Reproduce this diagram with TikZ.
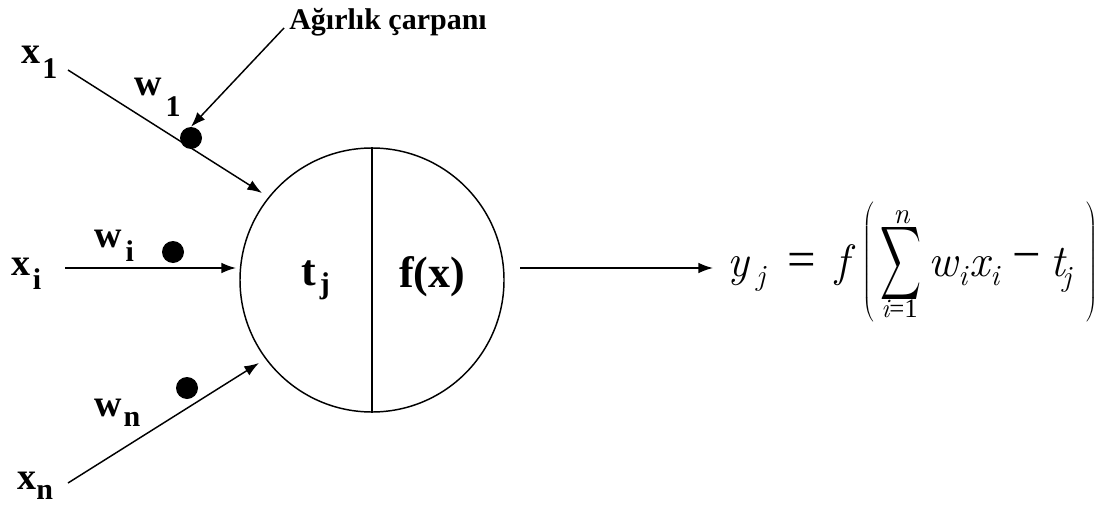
\documentclass[tikz,border=0pt]{standalone}
\usepackage{graphicx}
\usepackage{fontspec}
\setmainfont{Liberation Serif}
\newfontfamily\eqf{Liberation Serif}
\newcommand\lmit{\fontfamily{lmr}\fontshape{it}\selectfont}
\usetikzlibrary{arrows.meta}
% letter, subscript, lowering (pt), kern (pt)
\newcommand\sublab[4]{#1\kern#4pt\raisebox{-#3pt}{\fontsize{22.5}{24}\selectfont #2}}
\newcommand\bigparen[1]{$\left#1\vcenter{\hbox{\vrule height 45pt depth 45pt width 0pt}}\right.$}
\tikzset{
  lab/.style={inner sep=0pt, font=\fontsize{28.5}{30}\selectfont\bfseries},
  big/.style={inner sep=0pt, font=\fontsize{33}{36}\selectfont\bfseries},
  wire/.style={line width=1.1pt, -{Latex[length=11pt,width=8pt]}},
  dot/.style={circle, fill=black, inner sep=0pt, minimum size=16.5pt},
  neuron/.style={circle, draw, line width=1.1pt, inner sep=0pt, minimum size=198pt},
  eqit/.style={inner sep=0pt, anchor=base west, font=\fontsize{34}{36}\lmit},
  eqsub/.style={inner sep=0pt, anchor=base west, font=\fontsize{22}{24}\lmit},
  eqop/.style={inner sep=0pt, font=\fontsize{38}{40}\eqf},
  eqlim/.style={inner sep=0pt, anchor=base west, font=\fontsize{20}{22}\eqf},
  eqpar/.style={inner sep=0pt, font=\fontsize{26}{28}\selectfont},
}
\begin{document}
\begin{tikzpicture}[x=0.75pt,y=-0.75pt]
\useasboundingbox (0,0) rectangle (1112,506);
% neuron
\node[neuron] (N) at (372,280) {};
\draw[line width=1.1pt] (N.north) -- (N.south);
\node[big, anchor=base west] (tj) at (301,285) {\sublab{t}{j}{6}{3}};
\node[big, anchor=base west] (fx) at (399,287) {f(x)};
% labels
\node[lab, anchor=base west] (x1) at (21,64) {\sublab{x}{1}{11}{1.5}};
\node[lab, anchor=base west] (w1) at (134,96) {\sublab{w}{1}{15.5}{3}};
\node[lab, anchor=base west] (xi) at (11,275) {\sublab{x}{i}{10.5}{2}};
\node[lab, anchor=base west] (wi) at (94,247) {\sublab{w}{i}{10.5}{3}};
\node[lab, anchor=base west] (wn) at (94,416) {\sublab{w}{n}{7.5}{1.5}};
\node[lab, anchor=base west] (xn) at (17,489) {\sublab{x}{n}{8}{0}};
\node[inner sep=0pt, anchor=base west, font=\fontsize{22.5}{24}\selectfont\bfseries] (agr) at (289,30) {Ağırlık çarpanı};
% dots
\node[dot] (d1) at (191,138) {};
\node[dot] (di) at (173,252) {};
\node[dot] (dn) at (187,388) {};
% connector ends
\coordinate (s1) at (68,70);  \coordinate (e1) at (262,193);
\coordinate (si) at (65,268); \coordinate (ei) at (236,268);
\coordinate (sn) at (68,483); \coordinate (en) at (259,363);
\coordinate (sa) at (284,28); \coordinate (so) at (520,268);
\coordinate (eo) at (713,268);
\draw[wire] (s1) -- (e1);
\draw[wire] (si) -- (ei);
\draw[wire] (sn) -- (en);
\draw[wire] (sa) -- (d1.north);
\draw[wire] (so) -- (eo);
% output formula
\node[eqit] (ey) at (727,276) {y};
\node[eqsub] (eyj) at (756,285) {j};
\node[eqop] (eeq) at (801.5,265) {=};
\node[eqit] (ef) at (835,276) {f};
\node[eqpar] (elp) at (869,262) {\bigparen(};
\node[inner sep=0pt] (esum) at (900.5,263.5) {\resizebox{30.75pt}{40.5pt}{$\displaystyle\sum$}};
\node[eqsub] (en) at (893,223) {n};
\node[eqlim] (elim) at (881,317) {{\lmit i}=1};
\node[eqit] (ew) at (928,276) {w};
\node[eqsub] (ewi) at (958,285) {i};
\node[eqit] (ex) at (969,276) {x};
\node[eqsub] (exi) at (990,285) {i};
\node[eqop] (emin) at (1026.5,262) {−};
\node[eqit] (et) at (1050,276) {t};
\node[eqsub] (etj) at (1062,286) {j};
\node[eqpar] (erp) at (1093,262) {\bigparen)};
\end{tikzpicture}
\end{document}
